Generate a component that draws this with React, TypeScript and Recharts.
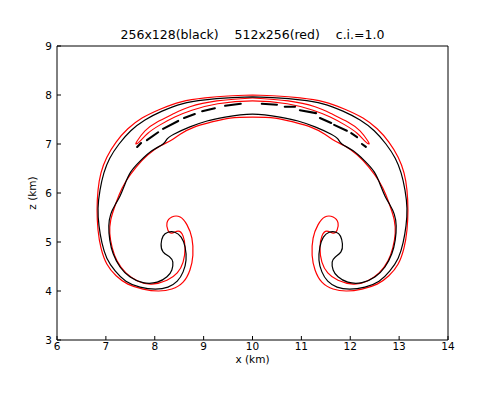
import React from 'react';
import { LineChart, Line, XAxis, YAxis } from 'recharts';

// contour outlines, [x km, z km], each traced as one closed path
const blackRing: number[][] = [
  [10.0, 7.96], [9.5, 7.94], [9.03, 7.9], [8.56, 7.82], [8.15, 7.67], [7.8, 7.49], [7.51, 7.27],
  [7.27, 7.0], [7.08, 6.71], [6.96, 6.41], [6.88, 6.06], [6.84, 5.69], [6.86, 5.33], [6.92, 4.98],
  [7.02, 4.67], [7.19, 4.41], [7.41, 4.2], [7.7, 4.08], [8.01, 4.04], [8.27, 4.08], [8.46, 4.2],
  [8.58, 4.39], [8.64, 4.63], [8.62, 4.9], [8.54, 5.1], [8.41, 5.2], [8.27, 5.2], [8.17, 5.12],
  [8.13, 4.96], [8.17, 4.8], [8.31, 4.69], [8.37, 4.59], [8.35, 4.43], [8.25, 4.29], [8.05, 4.18],
  [7.76, 4.17], [7.49, 4.29], [7.29, 4.49], [7.15, 4.76], [7.08, 5.04], [7.06, 5.33], [7.1, 5.57],
  [7.19, 5.76], [7.29, 5.94], [7.39, 6.18], [7.51, 6.43], [7.7, 6.65], [7.94, 6.86], [8.17, 7.0],
  [8.25, 7.1], [8.39, 7.2], [8.72, 7.35], [9.07, 7.47], [9.44, 7.55], [10.0, 7.61],
  [10.56, 7.55], [10.93, 7.47], [11.28, 7.35], [11.61, 7.2], [11.75, 7.1], [11.83, 7.0],
  [12.06, 6.86], [12.3, 6.65], [12.49, 6.43], [12.61, 6.18], [12.71, 5.94], [12.81, 5.76],
  [12.9, 5.57], [12.94, 5.33], [12.92, 5.04], [12.85, 4.76], [12.71, 4.49], [12.51, 4.29],
  [12.24, 4.17], [11.95, 4.18], [11.75, 4.29], [11.65, 4.43], [11.63, 4.59], [11.69, 4.69],
  [11.81, 4.8], [11.84, 4.96], [11.8, 5.12], [11.71, 5.2], [11.57, 5.2], [11.45, 5.1],
  [11.38, 4.9], [11.36, 4.63], [11.42, 4.39], [11.54, 4.2], [11.73, 4.08], [11.99, 4.04],
  [12.3, 4.08], [12.59, 4.2], [12.81, 4.41], [12.98, 4.67], [13.08, 4.98], [13.14, 5.33],
  [13.16, 5.69], [13.12, 6.06], [13.04, 6.41], [12.92, 6.71], [12.73, 7.0], [12.49, 7.27],
  [12.2, 7.49], [11.85, 7.67], [11.44, 7.82], [10.97, 7.9], [10.5, 7.94], [10.0, 7.96],
];

const redRing: number[][] = [
  [10.0, 8.0], [9.5, 7.98], [9.03, 7.94], [8.54, 7.86], [8.11, 7.71], [7.74, 7.53], [7.45, 7.31],
  [7.21, 7.04], [7.02, 6.73], [6.9, 6.41], [6.84, 6.06], [6.82, 5.65], [6.84, 5.24], [6.9, 4.88],
  [7.02, 4.55], [7.21, 4.31], [7.45, 4.14], [7.76, 4.04], [8.07, 4.0], [8.35, 4.04], [8.58, 4.18],
  [8.72, 4.43], [8.78, 4.73], [8.76, 5.08], [8.66, 5.35], [8.52, 5.51], [8.35, 5.51], [8.25, 5.39],
  [8.27, 5.24], [8.35, 5.18], [8.48, 5.22], [8.58, 5.12], [8.62, 4.88], [8.58, 4.59], [8.46, 4.37],
  [8.25, 4.22], [7.94, 4.14], [7.66, 4.2], [7.41, 4.37], [7.23, 4.61], [7.13, 4.88], [7.08, 5.18],
  [7.1, 5.45], [7.17, 5.69], [7.27, 5.96], [7.41, 6.24], [7.62, 6.53], [7.86, 6.78], [8.11, 6.96],
  [8.31, 7.06], [8.52, 7.2], [8.82, 7.35], [9.17, 7.45], [9.54, 7.53], [10.0, 7.55],
  [10.46, 7.53], [10.83, 7.45], [11.18, 7.35], [11.48, 7.2], [11.69, 7.06], [11.89, 6.96],
  [12.14, 6.78], [12.38, 6.53], [12.59, 6.24], [12.73, 5.96], [12.83, 5.69], [12.9, 5.45],
  [12.92, 5.18], [12.87, 4.88], [12.77, 4.61], [12.59, 4.37], [12.34, 4.2], [12.06, 4.14],
  [11.75, 4.22], [11.54, 4.37], [11.42, 4.59], [11.38, 4.88], [11.42, 5.12], [11.52, 5.22],
  [11.65, 5.18], [11.73, 5.24], [11.75, 5.39], [11.65, 5.51], [11.48, 5.51], [11.34, 5.35],
  [11.24, 5.08], [11.22, 4.73], [11.28, 4.43], [11.42, 4.18], [11.65, 4.04], [11.93, 4.0],
  [12.24, 4.04], [12.55, 4.14], [12.79, 4.31], [12.98, 4.55], [13.1, 4.88], [13.16, 5.24],
  [13.18, 5.65], [13.16, 6.06], [13.1, 6.41], [12.98, 6.73], [12.79, 7.04], [12.55, 7.31],
  [12.26, 7.53], [11.89, 7.71], [11.46, 7.86], [10.97, 7.94], [10.5, 7.98], [10.0, 8.0],
];

// thin second red contour hugging the top of the cap
const redBand: number[][] = [
  [10.0, 7.94], [9.27, 7.88], [8.72, 7.76], [8.37, 7.61], [8.05, 7.45], [7.8, 7.27], [7.64, 7.06],
  [7.62, 7.0], [7.7, 7.06], [7.86, 7.22], [8.11, 7.39], [8.41, 7.55], [8.76, 7.69], [9.29, 7.82],
  [10.0, 7.88], [10.71, 7.82], [11.24, 7.69], [11.59, 7.55], [11.89, 7.39], [12.14, 7.22],
  [12.3, 7.06], [12.38, 7.0], [12.36, 7.06], [12.2, 7.27], [11.95, 7.45], [11.63, 7.61],
  [11.28, 7.76], [10.73, 7.88], [10.0, 7.94],
];

// broken second black contour: small pieces along the cap
const blackDashes: number[][][] = [
  [[7.64, 6.94], [7.72, 7.02]],
  [[7.84, 7.08], [8.07, 7.24]],
  [[8.17, 7.31], [8.48, 7.47]],
  [[8.6, 7.53], [8.82, 7.61]],
  [[8.97, 7.67], [9.23, 7.73]],
  [[9.44, 7.78], [9.76, 7.82]],
  [[10.19, 7.82], [10.5, 7.8]],
  [[10.66, 7.76], [10.87, 7.76]],
  [[10.97, 7.69], [11.3, 7.63]],
  [[11.38, 7.53], [11.61, 7.43]],
  [[11.67, 7.39], [11.93, 7.27]],
  [[12.02, 7.22], [12.14, 7.14]],
  [[12.24, 7.0], [12.32, 6.94]],
];

const xTicks = [6, 7, 8, 9, 10, 11, 12, 13, 14];
const yTicks = [3, 4, 5, 6, 7, 8, 9];
const title = '256x128(black)    512x256(red)    c.i.=1.0';

const toPts = (arr: number[][]) => arr.map(([x, y]) => ({ x, y }));

const font = 'DejaVu Sans';
const tickStyle = { fill: '#000', fontSize: 10.5, fontFamily: font };

const App: React.FC = () => {
  return (
    <div style={{ position: 'relative', width: 471, height: 382 }}>
      <div
        style={{
          position: 'absolute',
          left: 44.5,
          width: 400,
          top: 21,
          textAlign: 'center',
          whiteSpace: 'pre',
          fontFamily: font,
          fontSize: 12.5,
          lineHeight: 1,
          color: '#000',
        }}
      >
        {title}
      </div>
      <LineChart
        width={471}
        height={382}
        margin={{ top: 37, right: 30, bottom: 20, left: 0 }}
        style={{ fontFamily: font }}
      >
        <XAxis
          dataKey="x"
          type="number"
          domain={[6, 14]}
          ticks={xTicks}
          interval={0}
          allowDataOverflow
          height={30}
          tickSize={-4}
          tickMargin={7}
          tick={tickStyle}
          stroke="#000"
          tickLine={{ stroke: '#000' }}
          axisLine={{ stroke: '#000' }}
          label={{ value: 'x (km)', position: 'insideBottom', offset: 7, fill: '#000', fontSize: 10.5, fontFamily: font }}
        />
        <XAxis
          xAxisId="top"
          dataKey="x"
          type="number"
          orientation="top"
          domain={[6, 14]}
          ticks={xTicks}
          interval={0}
          allowDataOverflow
          height={1}
          tickSize={-4}
          tick={false}
          stroke="#000"
          tickLine={{ stroke: '#000' }}
          axisLine={{ stroke: '#000' }}
        />
        <YAxis
          type="number"
          domain={[3, 9]}
          ticks={yTicks}
          interval={0}
          allowDataOverflow
          width={49}
          tickSize={-4}
          tickMargin={9}
          tick={tickStyle}
          stroke="#000"
          tickLine={{ stroke: '#000' }}
          axisLine={{ stroke: '#000' }}
          label={{ value: 'z (km)', angle: -90, position: 'center', fill: '#000', fontSize: 10.5, fontFamily: font }}
        />
        <YAxis
          yAxisId="right"
          type="number"
          orientation="right"
          domain={[3, 9]}
          ticks={yTicks}
          interval={0}
          allowDataOverflow
          width={1}
          tickSize={-4}
          tick={false}
          stroke="#000"
          tickLine={{ stroke: '#000' }}
          axisLine={{ stroke: '#000' }}
        />
        <Line
          xAxisId="top"
          yAxisId="right"
          data={toPts(redRing)}
          dataKey="y"
          type="natural"
          stroke="#ff0000"
          strokeWidth={1.2}
          dot={false}
          activeDot={false}
          isAnimationActive={false}
        />
        <Line
          data={toPts(redBand)}
          dataKey="y"
          type="natural"
          stroke="#ff0000"
          strokeWidth={1.1}
          dot={false}
          activeDot={false}
          isAnimationActive={false}
        />
        <Line
          data={toPts(blackRing)}
          dataKey="y"
          type="natural"
          stroke="#000"
          strokeWidth={1.2}
          dot={false}
          activeDot={false}
          isAnimationActive={false}
        />
        {blackDashes.map((seg, i) => (
          <Line
            key={'dash' + i}
            data={toPts(seg)}
            dataKey="y"
            stroke="#000"
            strokeWidth={2.1}
            strokeLinecap="round"
            dot={false}
            activeDot={false}
            isAnimationActive={false}
          />
        ))}
      </LineChart>
    </div>
  );
};

export default App;
